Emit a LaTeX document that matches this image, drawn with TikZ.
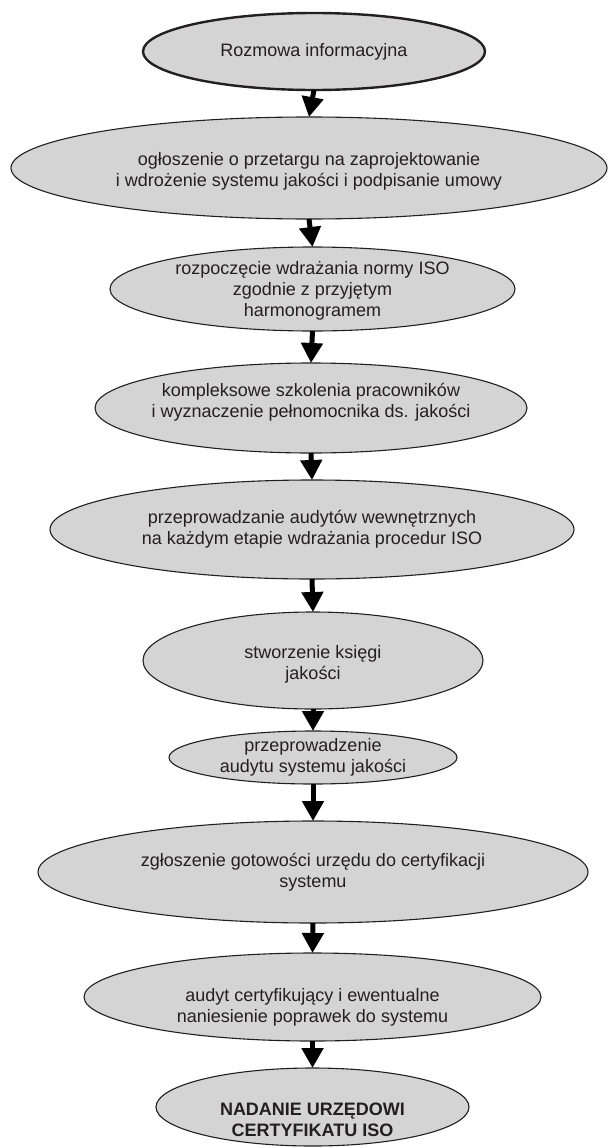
\documentclass[tikz,border=0pt]{standalone}
\usepackage{fontspec}
\setmainfont{Liberation Sans}
\usetikzlibrary{shapes.geometric,arrows.meta}
\definecolor{fillgray}{RGB}{212,212,212}
\definecolor{ink}{RGB}{35,31,32}
\tikzset{
  stage/.style={ellipse, draw=ink, fill=fillgray, line width=1.1pt, inner sep=0pt, outer sep=0pt},
  firststage/.style={stage, line width=2.4pt},
  txt/.style={align=center, text=ink, font=\fontsize{18}{21}\selectfont, inner sep=0pt},
  flow/.style={draw=black, line width=5pt, -{Triangle[width=21pt,length=20pt]}}
}
\begin{document}
\begin{tikzpicture}[x=1pt,y=-1pt]
\useasboundingbox (0,0) rectangle (613,1148);
% ellipses
\node[firststage, minimum width=342pt, minimum height=77pt] (e1) at (314,51.5) {};
\node[stage, minimum width=596pt, minimum height=102pt] (e2) at (309,168) {};
\node[stage, minimum width=405pt, minimum height=84pt] (e3) at (312.5,289) {};
\node[stage, minimum width=432pt, minimum height=90pt] (e4) at (311,408) {};
\node[stage, minimum width=524pt, minimum height=99pt] (e5) at (312,529.5) {};
\node[stage, minimum width=340pt, minimum height=97pt] (e6) at (313,660.5) {};
\node[stage, minimum width=288pt, minimum height=53pt] (e7) at (313,757.5) {};
\node[stage, minimum width=550pt, minimum height=102pt] (e8) at (313,872) {};
\node[stage, minimum width=457pt, minimum height=88pt] (e9) at (312.5,997) {};
\node[stage, minimum width=313pt, minimum height=78pt] (e10) at (312.5,1107) {};
% texts
\node[txt] (t1) at (e1) {Rozmowa informacyjna};
\node[txt] (t2) at ([yshift=-3pt]e2.center) {ogłoszenie o przetargu na zaprojektowanie\\i wdrożenie systemu jakości i podpisanie umowy};
\node[txt] (t3) at ([yshift=-2pt]e3.center) {rozpoczęcie wdrażania normy ISO\\zgodnie z przyjętym\\harmonogramem};
\node[txt] (t4) at ([yshift=6pt]e4.center) {kompleksowe szkolenia pracowników\\i wyznaczenie pełnomocnika ds. jakości};
\node[txt] (t5) at (e5) {przeprowadzanie audytów wewnętrznych\\na każdym etapie wdrażania procedur ISO};
\node[txt] (t6) at ([yshift=-4pt]e6.center) {stworzenie księgi\\jakości};
\node[txt] (t7) at (e7) {przeprowadzenie\\audytu systemu jakości};
\node[txt] (t8) at (e8) {zgłoszenie gotowości urzędu do certyfikacji\\systemu};
\node[txt] (t9) at ([yshift=-10pt]e9.center) {audyt certyfikujący i ewentualne\\naniesienie poprawek do systemu};
\node[txt, font=\fontsize{18}{21}\selectfont\bfseries] (t10) at ([yshift=-13pt]e10.center) {NADANIE URZĘDOWI\\CERTYFIKATU ISO};
% connectors
\draw[flow] (e1.south) -- (e2.north);
\draw[flow] (e2.south) -- (e3.north);
\draw[flow] (e3.south) -- (e4.north);
\draw[flow] (e4.south) -- (e5.north);
\draw[flow] (e5.south) -- (e6.north);
\draw[flow] (e6.south) -- (e7.north);
\draw[flow] (e7.south) -- (e8.north);
\draw[flow] (e8.south) -- (e9.north);
\draw[flow] (e9.south) -- (e10.north);
\end{tikzpicture}
\end{document}
